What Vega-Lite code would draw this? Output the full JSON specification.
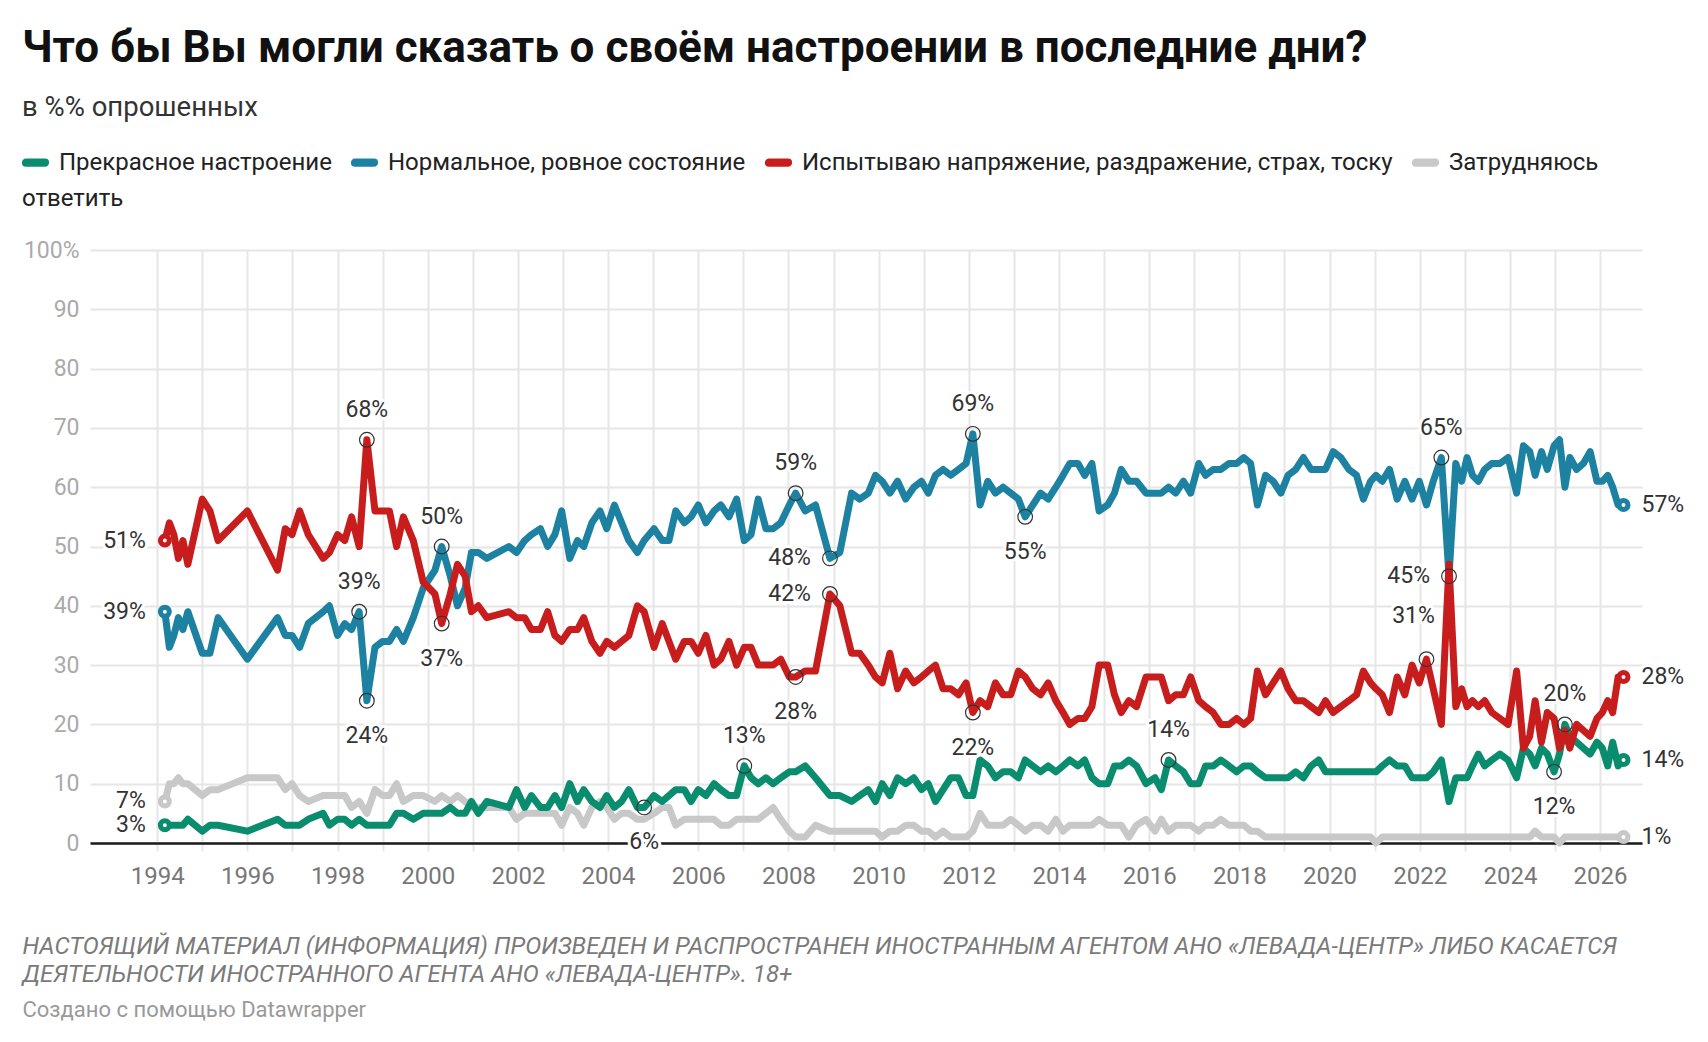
{
"$schema": "https://vega.github.io/schema/vega-lite/v6.json",
"width": 1552,
"height": 593,
"padding": {"left": 22, "top": 27, "right": 16, "bottom": 12},
"autosize": {"type": "pad"},
"background": "white",
"config": {"view": {"stroke": null}, "font": "Roboto"},
"title": {
  "text": "Что бы Вы могли сказать о своём настроении в последние дни?",
  "subtitle": "в %% опрошенных",
  "anchor": "start", "frame": "bounds",
  "font": "Roboto", "fontSize": 44, "fontWeight": "bold", "color": "#111111",
  "subtitleFont": "Roboto", "subtitleFontSize": 27.5, "subtitleColor": "#333333",
  "subtitlePadding": 22.5, "offset": 28
},
"datasets": {
"gray": [{"year":1994.17,"value":7},{"year":1994.27,"value":10},{"year":1994.37,"value":10},{"year":1994.47,"value":11},{"year":1994.57,"value":10},{"year":1994.68,"value":10},{"year":1995.0,"value":8},{"year":1995.17,"value":9},{"year":1995.35,"value":9},{"year":1996.0,"value":11},{"year":1996.67,"value":11},{"year":1996.84,"value":9},{"year":1996.99,"value":10},{"year":1997.16,"value":8},{"year":1997.35,"value":7},{"year":1997.68,"value":8},{"year":1997.82,"value":8},{"year":1998.0,"value":8},{"year":1998.16,"value":8},{"year":1998.31,"value":6},{"year":1998.48,"value":7},{"year":1998.65,"value":5},{"year":1998.83,"value":9},{"year":1999.0,"value":8},{"year":1999.15,"value":8},{"year":1999.31,"value":10},{"year":1999.46,"value":7},{"year":1999.68,"value":8},{"year":1999.9,"value":8},{"year":2000.16,"value":7},{"year":2000.31,"value":8},{"year":2000.5,"value":7},{"year":2000.66,"value":8},{"year":2000.83,"value":7},{"year":2000.97,"value":6},{"year":2001.12,"value":6},{"year":2001.31,"value":6},{"year":2001.8,"value":6},{"year":2001.97,"value":4},{"year":2002.15,"value":5},{"year":2002.3,"value":5},{"year":2002.5,"value":5},{"year":2002.66,"value":5},{"year":2002.82,"value":5},{"year":2002.97,"value":3},{"year":2003.15,"value":6},{"year":2003.32,"value":5},{"year":2003.46,"value":3},{"year":2003.64,"value":6},{"year":2003.82,"value":7},{"year":2003.97,"value":6},{"year":2004.14,"value":4},{"year":2004.3,"value":5},{"year":2004.46,"value":5},{"year":2004.65,"value":4},{"year":2004.8,"value":4},{"year":2005.02,"value":5},{"year":2005.2,"value":6},{"year":2005.35,"value":6},{"year":2005.5,"value":3},{"year":2005.69,"value":4},{"year":2005.84,"value":4},{"year":2006.0,"value":4},{"year":2006.17,"value":4},{"year":2006.35,"value":4},{"year":2006.5,"value":3},{"year":2006.68,"value":3},{"year":2006.85,"value":4},{"year":2007.02,"value":4},{"year":2007.17,"value":4},{"year":2007.33,"value":4},{"year":2007.5,"value":5},{"year":2007.66,"value":6},{"year":2007.83,"value":4},{"year":2008.02,"value":2},{"year":2008.16,"value":1},{"year":2008.37,"value":1},{"year":2008.6,"value":3},{"year":2008.92,"value":2},{"year":2009.14,"value":2},{"year":2009.4,"value":2},{"year":2009.58,"value":2},{"year":2009.77,"value":2},{"year":2009.93,"value":2},{"year":2010.08,"value":1},{"year":2010.25,"value":2},{"year":2010.42,"value":2},{"year":2010.6,"value":3},{"year":2010.78,"value":3},{"year":2010.95,"value":2},{"year":2011.1,"value":2},{"year":2011.26,"value":1},{"year":2011.43,"value":2},{"year":2011.6,"value":1},{"year":2011.77,"value":1},{"year":2011.94,"value":1},{"year":2012.09,"value":2},{"year":2012.25,"value":5},{"year":2012.42,"value":3},{"year":2012.59,"value":3},{"year":2012.76,"value":3},{"year":2012.93,"value":4},{"year":2013.1,"value":3},{"year":2013.25,"value":2},{"year":2013.42,"value":3},{"year":2013.59,"value":3},{"year":2013.76,"value":2},{"year":2013.93,"value":4},{"year":2014.09,"value":2},{"year":2014.24,"value":3},{"year":2014.42,"value":3},{"year":2014.57,"value":3},{"year":2014.73,"value":3},{"year":2014.89,"value":4},{"year":2015.08,"value":3},{"year":2015.23,"value":3},{"year":2015.38,"value":3},{"year":2015.55,"value":1},{"year":2015.72,"value":3},{"year":2015.93,"value":4},{"year":2016.13,"value":2},{"year":2016.27,"value":4},{"year":2016.43,"value":2},{"year":2016.59,"value":3},{"year":2016.76,"value":3},{"year":2016.92,"value":3},{"year":2017.1,"value":2},{"year":2017.25,"value":3},{"year":2017.42,"value":3},{"year":2017.59,"value":4},{"year":2017.77,"value":3},{"year":2017.94,"value":3},{"year":2018.1,"value":3},{"year":2018.25,"value":2},{"year":2018.4,"value":2},{"year":2018.58,"value":1},{"year":2018.75,"value":1},{"year":2018.92,"value":1},{"year":2019.08,"value":1},{"year":2019.25,"value":1},{"year":2019.42,"value":1},{"year":2019.59,"value":1},{"year":2019.76,"value":1},{"year":2019.91,"value":1},{"year":2020.08,"value":1},{"year":2020.25,"value":1},{"year":2020.43,"value":1},{"year":2020.6,"value":1},{"year":2020.75,"value":1},{"year":2020.91,"value":1},{"year":2021.03,"value":0},{"year":2021.17,"value":1},{"year":2021.33,"value":1},{"year":2021.5,"value":1},{"year":2021.67,"value":1},{"year":2021.83,"value":1},{"year":2021.99,"value":1},{"year":2022.15,"value":1},{"year":2022.3,"value":1},{"year":2022.48,"value":1},{"year":2022.65,"value":1},{"year":2022.8,"value":1},{"year":2022.93,"value":1},{"year":2023.05,"value":1},{"year":2023.17,"value":1},{"year":2023.3,"value":1},{"year":2023.44,"value":1},{"year":2023.6,"value":1},{"year":2023.78,"value":1},{"year":2023.96,"value":1},{"year":2024.15,"value":1},{"year":2024.3,"value":1},{"year":2024.44,"value":1},{"year":2024.56,"value":2},{"year":2024.7,"value":1},{"year":2024.83,"value":1},{"year":2024.98,"value":1},{"year":2025.1,"value":0},{"year":2025.22,"value":1},{"year":2025.33,"value":1},{"year":2025.48,"value":1},{"year":2025.63,"value":1},{"year":2025.78,"value":1},{"year":2025.93,"value":1},{"year":2026.05,"value":1},{"year":2026.17,"value":1},{"year":2026.28,"value":1},{"year":2026.4,"value":1},{"year":2026.52,"value":1}],
"green": [{"year":1994.17,"value":3},{"year":1994.27,"value":3},{"year":1994.37,"value":3},{"year":1994.47,"value":3},{"year":1994.57,"value":3},{"year":1994.68,"value":4},{"year":1995.0,"value":2},{"year":1995.17,"value":3},{"year":1995.35,"value":3},{"year":1996.0,"value":2},{"year":1996.67,"value":4},{"year":1996.84,"value":3},{"year":1996.99,"value":3},{"year":1997.16,"value":3},{"year":1997.35,"value":4},{"year":1997.68,"value":5},{"year":1997.82,"value":3},{"year":1998.0,"value":4},{"year":1998.16,"value":4},{"year":1998.31,"value":3},{"year":1998.48,"value":4},{"year":1998.65,"value":3},{"year":1998.83,"value":3},{"year":1999.0,"value":3},{"year":1999.15,"value":3},{"year":1999.31,"value":5},{"year":1999.46,"value":5},{"year":1999.68,"value":4},{"year":1999.9,"value":5},{"year":2000.16,"value":5},{"year":2000.31,"value":5},{"year":2000.5,"value":6},{"year":2000.66,"value":5},{"year":2000.83,"value":5},{"year":2000.97,"value":7},{"year":2001.12,"value":5},{"year":2001.31,"value":7},{"year":2001.8,"value":6},{"year":2001.97,"value":9},{"year":2002.15,"value":6},{"year":2002.3,"value":8},{"year":2002.5,"value":6},{"year":2002.66,"value":6},{"year":2002.82,"value":8},{"year":2002.97,"value":6},{"year":2003.15,"value":10},{"year":2003.32,"value":7},{"year":2003.46,"value":9},{"year":2003.64,"value":7},{"year":2003.82,"value":6},{"year":2003.97,"value":8},{"year":2004.14,"value":6},{"year":2004.3,"value":7},{"year":2004.46,"value":9},{"year":2004.65,"value":6},{"year":2004.8,"value":6},{"year":2005.02,"value":8},{"year":2005.2,"value":7},{"year":2005.35,"value":8},{"year":2005.5,"value":9},{"year":2005.69,"value":9},{"year":2005.84,"value":7},{"year":2006.0,"value":9},{"year":2006.17,"value":8},{"year":2006.35,"value":10},{"year":2006.5,"value":9},{"year":2006.68,"value":8},{"year":2006.85,"value":8},{"year":2007.02,"value":13},{"year":2007.17,"value":11},{"year":2007.33,"value":10},{"year":2007.5,"value":11},{"year":2007.66,"value":10},{"year":2007.83,"value":11},{"year":2008.02,"value":12},{"year":2008.16,"value":12},{"year":2008.37,"value":13},{"year":2008.6,"value":11},{"year":2008.92,"value":8},{"year":2009.14,"value":8},{"year":2009.4,"value":7},{"year":2009.58,"value":8},{"year":2009.77,"value":9},{"year":2009.93,"value":7},{"year":2010.08,"value":10},{"year":2010.25,"value":8},{"year":2010.42,"value":11},{"year":2010.6,"value":10},{"year":2010.78,"value":11},{"year":2010.95,"value":9},{"year":2011.1,"value":10},{"year":2011.26,"value":7},{"year":2011.43,"value":9},{"year":2011.6,"value":11},{"year":2011.77,"value":11},{"year":2011.94,"value":8},{"year":2012.09,"value":8},{"year":2012.25,"value":14},{"year":2012.42,"value":13},{"year":2012.59,"value":11},{"year":2012.76,"value":12},{"year":2012.93,"value":12},{"year":2013.1,"value":11},{"year":2013.25,"value":14},{"year":2013.42,"value":13},{"year":2013.59,"value":12},{"year":2013.76,"value":13},{"year":2013.93,"value":12},{"year":2014.09,"value":13},{"year":2014.24,"value":14},{"year":2014.42,"value":13},{"year":2014.57,"value":14},{"year":2014.73,"value":11},{"year":2014.89,"value":10},{"year":2015.08,"value":10},{"year":2015.23,"value":13},{"year":2015.38,"value":13},{"year":2015.55,"value":14},{"year":2015.72,"value":13},{"year":2015.93,"value":10},{"year":2016.13,"value":11},{"year":2016.27,"value":9},{"year":2016.43,"value":14},{"year":2016.59,"value":13},{"year":2016.76,"value":12},{"year":2016.92,"value":10},{"year":2017.1,"value":10},{"year":2017.25,"value":13},{"year":2017.42,"value":13},{"year":2017.59,"value":14},{"year":2017.77,"value":13},{"year":2017.94,"value":12},{"year":2018.1,"value":13},{"year":2018.25,"value":13},{"year":2018.4,"value":12},{"year":2018.58,"value":11},{"year":2018.75,"value":11},{"year":2018.92,"value":11},{"year":2019.08,"value":11},{"year":2019.25,"value":12},{"year":2019.42,"value":11},{"year":2019.59,"value":13},{"year":2019.76,"value":14},{"year":2019.91,"value":12},{"year":2020.08,"value":12},{"year":2020.25,"value":12},{"year":2020.43,"value":12},{"year":2020.6,"value":12},{"year":2020.75,"value":12},{"year":2020.91,"value":12},{"year":2021.03,"value":12},{"year":2021.17,"value":13},{"year":2021.33,"value":14},{"year":2021.5,"value":13},{"year":2021.67,"value":13},{"year":2021.83,"value":11},{"year":2021.99,"value":11},{"year":2022.15,"value":11},{"year":2022.3,"value":12},{"year":2022.48,"value":14},{"year":2022.65,"value":7},{"year":2022.8,"value":11},{"year":2022.93,"value":11},{"year":2023.05,"value":11},{"year":2023.17,"value":13},{"year":2023.3,"value":15},{"year":2023.44,"value":13},{"year":2023.6,"value":14},{"year":2023.78,"value":15},{"year":2023.96,"value":14},{"year":2024.15,"value":11},{"year":2024.3,"value":16},{"year":2024.44,"value":15},{"year":2024.56,"value":13},{"year":2024.7,"value":16},{"year":2024.83,"value":15},{"year":2024.98,"value":12},{"year":2025.1,"value":15},{"year":2025.22,"value":20},{"year":2025.33,"value":18},{"year":2025.48,"value":17},{"year":2025.63,"value":16},{"year":2025.78,"value":15},{"year":2025.93,"value":17},{"year":2026.05,"value":16},{"year":2026.17,"value":13},{"year":2026.28,"value":17},{"year":2026.4,"value":13},{"year":2026.52,"value":14}],
"blue": [{"year":1994.17,"value":39},{"year":1994.27,"value":33},{"year":1994.37,"value":35},{"year":1994.47,"value":38},{"year":1994.57,"value":36},{"year":1994.68,"value":39},{"year":1995.0,"value":32},{"year":1995.17,"value":32},{"year":1995.35,"value":38},{"year":1996.0,"value":31},{"year":1996.67,"value":38},{"year":1996.84,"value":35},{"year":1996.99,"value":35},{"year":1997.16,"value":33},{"year":1997.35,"value":37},{"year":1997.68,"value":39},{"year":1997.82,"value":40},{"year":1998.0,"value":35},{"year":1998.16,"value":37},{"year":1998.31,"value":36},{"year":1998.48,"value":39},{"year":1998.65,"value":24},{"year":1998.83,"value":33},{"year":1999.0,"value":34},{"year":1999.15,"value":34},{"year":1999.31,"value":36},{"year":1999.46,"value":34},{"year":1999.68,"value":38},{"year":1999.9,"value":43},{"year":2000.16,"value":46},{"year":2000.31,"value":50},{"year":2000.5,"value":45},{"year":2000.66,"value":40},{"year":2000.83,"value":43},{"year":2000.97,"value":49},{"year":2001.12,"value":49},{"year":2001.31,"value":48},{"year":2001.8,"value":50},{"year":2001.97,"value":49},{"year":2002.15,"value":51},{"year":2002.3,"value":52},{"year":2002.5,"value":53},{"year":2002.66,"value":50},{"year":2002.82,"value":52},{"year":2002.97,"value":56},{"year":2003.15,"value":48},{"year":2003.32,"value":51},{"year":2003.46,"value":50},{"year":2003.64,"value":54},{"year":2003.82,"value":56},{"year":2003.97,"value":53},{"year":2004.14,"value":57},{"year":2004.3,"value":54},{"year":2004.46,"value":51},{"year":2004.65,"value":49},{"year":2004.8,"value":51},{"year":2005.02,"value":53},{"year":2005.2,"value":51},{"year":2005.35,"value":51},{"year":2005.5,"value":56},{"year":2005.69,"value":54},{"year":2005.84,"value":55},{"year":2006.0,"value":57},{"year":2006.17,"value":54},{"year":2006.35,"value":56},{"year":2006.5,"value":57},{"year":2006.68,"value":55},{"year":2006.85,"value":58},{"year":2007.02,"value":51},{"year":2007.17,"value":52},{"year":2007.33,"value":58},{"year":2007.5,"value":53},{"year":2007.66,"value":53},{"year":2007.83,"value":54},{"year":2008.02,"value":57},{"year":2008.16,"value":59},{"year":2008.37,"value":56},{"year":2008.6,"value":57},{"year":2008.92,"value":48},{"year":2009.14,"value":49},{"year":2009.4,"value":59},{"year":2009.58,"value":58},{"year":2009.77,"value":59},{"year":2009.93,"value":62},{"year":2010.08,"value":61},{"year":2010.25,"value":59},{"year":2010.42,"value":61},{"year":2010.6,"value":58},{"year":2010.78,"value":60},{"year":2010.95,"value":61},{"year":2011.1,"value":59},{"year":2011.26,"value":62},{"year":2011.43,"value":63},{"year":2011.6,"value":62},{"year":2011.77,"value":63},{"year":2011.94,"value":64},{"year":2012.09,"value":69},{"year":2012.25,"value":57},{"year":2012.42,"value":61},{"year":2012.59,"value":59},{"year":2012.76,"value":60},{"year":2012.93,"value":59},{"year":2013.1,"value":58},{"year":2013.25,"value":55},{"year":2013.42,"value":57},{"year":2013.59,"value":59},{"year":2013.76,"value":58},{"year":2013.93,"value":60},{"year":2014.09,"value":62},{"year":2014.24,"value":64},{"year":2014.42,"value":64},{"year":2014.57,"value":62},{"year":2014.73,"value":64},{"year":2014.89,"value":56},{"year":2015.08,"value":57},{"year":2015.23,"value":59},{"year":2015.38,"value":63},{"year":2015.55,"value":61},{"year":2015.72,"value":61},{"year":2015.93,"value":59},{"year":2016.13,"value":59},{"year":2016.27,"value":59},{"year":2016.43,"value":60},{"year":2016.59,"value":59},{"year":2016.76,"value":61},{"year":2016.92,"value":59},{"year":2017.1,"value":64},{"year":2017.25,"value":62},{"year":2017.42,"value":63},{"year":2017.59,"value":63},{"year":2017.77,"value":64},{"year":2017.94,"value":64},{"year":2018.1,"value":65},{"year":2018.25,"value":64},{"year":2018.4,"value":57},{"year":2018.58,"value":62},{"year":2018.75,"value":61},{"year":2018.92,"value":59},{"year":2019.08,"value":62},{"year":2019.25,"value":63},{"year":2019.42,"value":65},{"year":2019.59,"value":63},{"year":2019.76,"value":63},{"year":2019.91,"value":63},{"year":2020.08,"value":66},{"year":2020.25,"value":65},{"year":2020.43,"value":63},{"year":2020.6,"value":62},{"year":2020.75,"value":58},{"year":2020.91,"value":61},{"year":2021.03,"value":62},{"year":2021.17,"value":61},{"year":2021.33,"value":63},{"year":2021.5,"value":58},{"year":2021.67,"value":61},{"year":2021.83,"value":58},{"year":2021.99,"value":61},{"year":2022.15,"value":57},{"year":2022.3,"value":61},{"year":2022.48,"value":65},{"year":2022.65,"value":45},{"year":2022.8,"value":64},{"year":2022.93,"value":61},{"year":2023.05,"value":65},{"year":2023.17,"value":62},{"year":2023.3,"value":61},{"year":2023.44,"value":63},{"year":2023.6,"value":64},{"year":2023.78,"value":64},{"year":2023.96,"value":65},{"year":2024.15,"value":59},{"year":2024.3,"value":67},{"year":2024.44,"value":66},{"year":2024.56,"value":62},{"year":2024.7,"value":66},{"year":2024.83,"value":63},{"year":2024.98,"value":67},{"year":2025.1,"value":68},{"year":2025.22,"value":60},{"year":2025.33,"value":65},{"year":2025.48,"value":63},{"year":2025.63,"value":64},{"year":2025.78,"value":66},{"year":2025.93,"value":61},{"year":2026.05,"value":61},{"year":2026.17,"value":62},{"year":2026.28,"value":60},{"year":2026.4,"value":57},{"year":2026.52,"value":57}],
"red": [{"year":1994.17,"value":51},{"year":1994.27,"value":54},{"year":1994.37,"value":52},{"year":1994.47,"value":48},{"year":1994.57,"value":51},{"year":1994.68,"value":47},{"year":1995.0,"value":58},{"year":1995.17,"value":56},{"year":1995.35,"value":51},{"year":1996.0,"value":56},{"year":1996.67,"value":46},{"year":1996.84,"value":53},{"year":1996.99,"value":52},{"year":1997.16,"value":56},{"year":1997.35,"value":52},{"year":1997.68,"value":48},{"year":1997.82,"value":49},{"year":1998.0,"value":52},{"year":1998.16,"value":51},{"year":1998.31,"value":55},{"year":1998.48,"value":50},{"year":1998.65,"value":68},{"year":1998.83,"value":56},{"year":1999.0,"value":56},{"year":1999.15,"value":56},{"year":1999.31,"value":50},{"year":1999.46,"value":55},{"year":1999.68,"value":51},{"year":1999.9,"value":44},{"year":2000.16,"value":42},{"year":2000.31,"value":37},{"year":2000.5,"value":42},{"year":2000.66,"value":47},{"year":2000.83,"value":45},{"year":2000.97,"value":39},{"year":2001.12,"value":40},{"year":2001.31,"value":38},{"year":2001.8,"value":39},{"year":2001.97,"value":38},{"year":2002.15,"value":38},{"year":2002.3,"value":36},{"year":2002.5,"value":36},{"year":2002.66,"value":39},{"year":2002.82,"value":35},{"year":2002.97,"value":34},{"year":2003.15,"value":36},{"year":2003.32,"value":36},{"year":2003.46,"value":38},{"year":2003.64,"value":34},{"year":2003.82,"value":32},{"year":2003.97,"value":34},{"year":2004.14,"value":33},{"year":2004.3,"value":34},{"year":2004.46,"value":35},{"year":2004.65,"value":40},{"year":2004.8,"value":39},{"year":2005.02,"value":33},{"year":2005.2,"value":37},{"year":2005.35,"value":34},{"year":2005.5,"value":31},{"year":2005.69,"value":34},{"year":2005.84,"value":34},{"year":2006.0,"value":32},{"year":2006.17,"value":35},{"year":2006.35,"value":30},{"year":2006.5,"value":31},{"year":2006.68,"value":34},{"year":2006.85,"value":30},{"year":2007.02,"value":33},{"year":2007.17,"value":33},{"year":2007.33,"value":30},{"year":2007.5,"value":30},{"year":2007.66,"value":30},{"year":2007.83,"value":31},{"year":2008.02,"value":28},{"year":2008.16,"value":28},{"year":2008.37,"value":29},{"year":2008.6,"value":29},{"year":2008.92,"value":42},{"year":2009.14,"value":40},{"year":2009.4,"value":32},{"year":2009.58,"value":32},{"year":2009.77,"value":30},{"year":2009.93,"value":28},{"year":2010.08,"value":27},{"year":2010.25,"value":32},{"year":2010.42,"value":26},{"year":2010.6,"value":29},{"year":2010.78,"value":27},{"year":2010.95,"value":28},{"year":2011.1,"value":29},{"year":2011.26,"value":30},{"year":2011.43,"value":26},{"year":2011.6,"value":26},{"year":2011.77,"value":25},{"year":2011.94,"value":27},{"year":2012.09,"value":22},{"year":2012.25,"value":24},{"year":2012.42,"value":23},{"year":2012.59,"value":27},{"year":2012.76,"value":25},{"year":2012.93,"value":25},{"year":2013.1,"value":29},{"year":2013.25,"value":28},{"year":2013.42,"value":26},{"year":2013.59,"value":25},{"year":2013.76,"value":27},{"year":2013.93,"value":24},{"year":2014.09,"value":22},{"year":2014.24,"value":20},{"year":2014.42,"value":21},{"year":2014.57,"value":21},{"year":2014.73,"value":23},{"year":2014.89,"value":30},{"year":2015.08,"value":30},{"year":2015.23,"value":25},{"year":2015.38,"value":22},{"year":2015.55,"value":24},{"year":2015.72,"value":23},{"year":2015.93,"value":28},{"year":2016.13,"value":28},{"year":2016.27,"value":28},{"year":2016.43,"value":24},{"year":2016.59,"value":25},{"year":2016.76,"value":25},{"year":2016.92,"value":28},{"year":2017.1,"value":24},{"year":2017.25,"value":23},{"year":2017.42,"value":22},{"year":2017.59,"value":20},{"year":2017.77,"value":20},{"year":2017.94,"value":21},{"year":2018.1,"value":20},{"year":2018.25,"value":21},{"year":2018.4,"value":29},{"year":2018.58,"value":25},{"year":2018.75,"value":27},{"year":2018.92,"value":29},{"year":2019.08,"value":26},{"year":2019.25,"value":24},{"year":2019.42,"value":24},{"year":2019.59,"value":23},{"year":2019.76,"value":22},{"year":2019.91,"value":24},{"year":2020.08,"value":22},{"year":2020.25,"value":23},{"year":2020.43,"value":24},{"year":2020.6,"value":25},{"year":2020.75,"value":29},{"year":2020.91,"value":27},{"year":2021.03,"value":26},{"year":2021.17,"value":25},{"year":2021.33,"value":22},{"year":2021.5,"value":28},{"year":2021.67,"value":25},{"year":2021.83,"value":30},{"year":2021.99,"value":27},{"year":2022.15,"value":31},{"year":2022.3,"value":26},{"year":2022.48,"value":20},{"year":2022.65,"value":47},{"year":2022.8,"value":23},{"year":2022.93,"value":26},{"year":2023.05,"value":23},{"year":2023.17,"value":24},{"year":2023.3,"value":23},{"year":2023.44,"value":24},{"year":2023.6,"value":22},{"year":2023.78,"value":21},{"year":2023.96,"value":20},{"year":2024.15,"value":29},{"year":2024.3,"value":16},{"year":2024.44,"value":18},{"year":2024.56,"value":24},{"year":2024.7,"value":17},{"year":2024.83,"value":22},{"year":2024.98,"value":21},{"year":2025.1,"value":16},{"year":2025.22,"value":19},{"year":2025.33,"value":16},{"year":2025.48,"value":20},{"year":2025.63,"value":19},{"year":2025.78,"value":18},{"year":2025.93,"value":21},{"year":2026.05,"value":22},{"year":2026.17,"value":24},{"year":2026.28,"value":22},{"year":2026.4,"value":28},{"year":2026.52,"value":28}],
"annAbove": [{"year":1998.65,"value":68},{"year":1998.48,"value":39},{"year":2000.31,"value":50},{"year":2007.02,"value":13},{"year":2008.16,"value":59},{"year":2012.09,"value":69},{"year":2016.43,"value":14},{"year":2022.48,"value":65},{"year":2025.22,"value":20}],
"annBelow": [{"year":1998.65,"value":24},{"year":2000.31,"value":37},{"year":2004.8,"value":6},{"year":2008.16,"value":28},{"year":2012.09,"value":22},{"year":2013.25,"value":55},{"year":2024.98,"value":12}],
"annLeft": [{"year":2008.92,"value":48},{"year":2008.92,"value":42},{"year":2022.65,"value":45}],
"annAboveLeft": [{"year":2022.15,"value":31}],
"starts": [{"series":"Прекрасное настроение","year":1994.17,"value":3},{"series":"Нормальное, ровное состояние","year":1994.17,"value":39},{"series":"Испытываю напряжение, раздражение, страх, тоску","year":1994.17,"value":51},{"series":"Затрудняюсь ответить","year":1994.17,"value":7}],
"ends": [{"series":"Прекрасное настроение","year":2026.52,"value":14},{"series":"Нормальное, ровное состояние","year":2026.52,"value":57},{"series":"Испытываю напряжение, раздражение, страх, тоску","year":2026.52,"value":28},{"series":"Затрудняюсь ответить","year":2026.52,"value":1}]
},
"encoding": {
  "y": {"field": "value", "type": "quantitative",
    "scale": {"domain": [0, 100], "nice": false, "zero": true},
    "axis": {"values": [0,10,20,30,40,50,60,70,80,90,100], "title": null, "grid": true, "gridColor": "#e6e6e6", "gridWidth": 2,
      "domain": false, "ticks": false, "labelPadding": 11, "labelFont": "Roboto", "labelFontSize": 23, "labelColor": "#aaaaaa",
      "labelExpr": "datum.value == 100 ? '100%' : datum.label", "labelBaseline": "middle"}}
},
"layer": [
  {"data": {"name": "gray"},
   "mark": {"type": "line", "strokeWidth": 7, "strokeJoin": "round", "strokeCap": "round"},
   "encoding": {
     "x": {"field": "year", "type": "quantitative", "scale": {"domain": [1992.51, 2026.93], "nice": false, "zero": false},
       "axis": {"orient": "bottom", "values": [1994,1995,1996,1997,1998,1999,2000,2001,2002,2003,2004,2005,2006,2007,2008,2009,2010,2011,2012,2013,2014,2015,2016,2017,2018,2019,2020,2021,2022,2023,2024,2025,2026],
         "format": "d", "labelExpr": "datum.value % 2 == 0 ? datum.label : ''",
         "grid": true, "gridColor": "#e6e6e6", "gridWidth": 2,
         "ticks": true, "tickSize": 8, "tickColor": "#e6e6e6", "tickWidth": 2,
         "domain": true, "domainColor": "#1a1a1a", "domainWidth": 2.5,
         "labelFont": "Roboto", "labelFontSize": 24, "labelColor": "#777777", "labelPadding": 13, "labelFlush": false, "labelOverlap": false,
         "title": ["НАСТОЯЩИЙ МАТЕРИАЛ (ИНФОРМАЦИЯ) ПРОИЗВЕДЕН И РАСПРОСТРАНЕН ИНОСТРАННЫМ АГЕНТОМ АНО «ЛЕВАДА-ЦЕНТР» ЛИБО КАСАЕТСЯ", "ДЕЯТЕЛЬНОСТИ ИНОСТРАННОГО АГЕНТА АНО «ЛЕВАДА-ЦЕНТР». 18+"],
         "titleFont": "Roboto", "titleFontStyle": "italic", "titleFontWeight": "normal", "titleFontSize": 24, "titleColor": "#7a7a7a",
         "titleLineHeight": 28, "titleAnchor": "start", "titleAlign": "left", "titleX": -68, "titleY": 110, "titleBaseline": "alphabetic"}},
     "color": {"datum": "Затрудняюсь ответить", "type": "nominal",
       "scale": {"domain": ["Прекрасное настроение", "Нормальное, ровное состояние", "Испытываю напряжение, раздражение, страх, тоску", "Затрудняюсь ответить"],
                 "range": ["#0a8d6e", "#1d81a2", "#c71e1d", "#c8c8c8"]},
       "legend": {"orient": "none", "legendX": -68, "legendY": -101, "direction": "horizontal",
         "title": "ответить", "titleOrient": "bottom", "titleAnchor": "start", "titleFont": "Roboto", "titleFontSize": 24, "titleFontWeight": "normal", "titleColor": "#222222", "titlePadding": 8,
         "labelFont": "Roboto", "labelFontSize": 24, "labelColor": "#222222", "labelOffset": 10, "labelLimit": 900, "columnPadding": 6,
         "labelExpr": "datum.label == 'Затрудняюсь ответить' ? 'Затрудняюсь' : datum.label",
         "symbolType": "M-1,-0.01L1,-0.01A0.01,0.01 0 0 1 1,0.01L-1,0.01A0.01,0.01 0 0 1 -1,-0.01Z",
         "symbolSize": 361, "symbolStrokeWidth": 8, "symbolOpacity": 1}}
   }},
  {"data": {"name": "green"},
   "mark": {"type": "line", "strokeWidth": 7, "strokeJoin": "round", "strokeCap": "round"},
   "encoding": {
     "x": {"field": "year", "type": "quantitative", "scale": {"domain": [1992.51, 2026.93], "nice": false, "zero": false}, "axis": null},
     "color": {"datum": "Прекрасное настроение", "type": "nominal"}}},
  {"data": {"name": "blue"},
   "mark": {"type": "line", "strokeWidth": 7, "strokeJoin": "round", "strokeCap": "round"},
   "encoding": {
     "x": {"field": "year", "type": "quantitative", "scale": {"domain": [1992.51, 2026.93], "nice": false, "zero": false}, "axis": null},
     "color": {"datum": "Нормальное, ровное состояние", "type": "nominal"}}},
  {"data": {"name": "red"},
   "mark": {"type": "line", "strokeWidth": 7, "strokeJoin": "round", "strokeCap": "round"},
   "encoding": {
     "x": {"field": "year", "type": "quantitative", "scale": {"domain": [1992.51, 2026.93], "nice": false, "zero": false}, "axis": null},
     "color": {"datum": "Испытываю напряжение, раздражение, страх, тоску", "type": "nominal"}}},
  {"data": {"name": "annAbove"},
   "transform": [{"calculate": "datum.value + '%'", "as": "label"}],
   "encoding": {"x": {"field": "year", "type": "quantitative", "scale": {"domain": [1992.51, 2026.93], "nice": false, "zero": false}, "axis": null}},
   "layer": [
     {"mark": {"type": "point", "shape": "circle", "size": 216, "filled": false, "stroke": "#333333", "strokeWidth": 1.2, "opacity": 1}},
     {"mark": {"type": "text", "dy": -30, "font": "Roboto", "fontSize": 23, "fill": "white", "stroke": "white", "strokeWidth": 6, "strokeJoin": "round"}, "encoding": {"text": {"field": "label"}}},
     {"mark": {"type": "text", "dy": -30, "font": "Roboto", "fontSize": 23, "fill": "#333333"}, "encoding": {"text": {"field": "label"}}}
   ]},
  {"data": {"name": "annBelow"},
   "transform": [{"calculate": "datum.value + '%'", "as": "label"}],
   "encoding": {"x": {"field": "year", "type": "quantitative", "scale": {"domain": [1992.51, 2026.93], "nice": false, "zero": false}, "axis": null}},
   "layer": [
     {"mark": {"type": "point", "shape": "circle", "size": 216, "filled": false, "stroke": "#333333", "strokeWidth": 1.2, "opacity": 1}},
     {"mark": {"type": "text", "dy": 35, "font": "Roboto", "fontSize": 23, "fill": "white", "stroke": "white", "strokeWidth": 6, "strokeJoin": "round"}, "encoding": {"text": {"field": "label"}}},
     {"mark": {"type": "text", "dy": 35, "font": "Roboto", "fontSize": 23, "fill": "#333333"}, "encoding": {"text": {"field": "label"}}}
   ]},
  {"data": {"name": "annLeft"},
   "transform": [{"calculate": "datum.value + '%'", "as": "label"}],
   "encoding": {"x": {"field": "year", "type": "quantitative", "scale": {"domain": [1992.51, 2026.93], "nice": false, "zero": false}, "axis": null}},
   "layer": [
     {"mark": {"type": "point", "shape": "circle", "size": 216, "filled": false, "stroke": "#333333", "strokeWidth": 1.2, "opacity": 1}},
     {"mark": {"type": "text", "dx": -19, "align": "right", "font": "Roboto", "fontSize": 23, "fill": "white", "stroke": "white", "strokeWidth": 6, "strokeJoin": "round"}, "encoding": {"text": {"field": "label"}}},
     {"mark": {"type": "text", "dx": -19, "align": "right", "font": "Roboto", "fontSize": 23, "fill": "#333333"}, "encoding": {"text": {"field": "label"}}}
   ]},
  {"data": {"name": "annAboveLeft"},
   "transform": [{"calculate": "datum.value + '%'", "as": "label"}],
   "encoding": {"x": {"field": "year", "type": "quantitative", "scale": {"domain": [1992.51, 2026.93], "nice": false, "zero": false}, "axis": null}},
   "layer": [
     {"mark": {"type": "point", "shape": "circle", "size": 216, "filled": false, "stroke": "#333333", "strokeWidth": 1.2, "opacity": 1}},
     {"mark": {"type": "text", "dx": -13, "dy": -43, "font": "Roboto", "fontSize": 23, "fill": "white", "stroke": "white", "strokeWidth": 6, "strokeJoin": "round"}, "encoding": {"text": {"field": "label"}}},
     {"mark": {"type": "text", "dx": -13, "dy": -43, "font": "Roboto", "fontSize": 23, "fill": "#333333"}, "encoding": {"text": {"field": "label"}}}
   ]},
  {"data": {"name": "starts"},
   "transform": [{"calculate": "datum.value + '%'", "as": "label"}],
   "encoding": {"x": {"field": "year", "type": "quantitative", "scale": {"domain": [1992.51, 2026.93], "nice": false, "zero": false}, "axis": null}},
   "layer": [
     {"mark": {"type": "point", "shape": "circle", "size": 80, "filled": false, "fill": "white", "strokeWidth": 5, "opacity": 1},
      "encoding": {"color": {"field": "series", "type": "nominal", "legend": null}}},
     {"mark": {"type": "text", "dx": -19, "align": "right", "font": "Roboto", "fontSize": 23, "fill": "white", "stroke": "white", "strokeWidth": 6, "strokeJoin": "round"}, "encoding": {"text": {"field": "label"}}},
     {"mark": {"type": "text", "dx": -19, "align": "right", "font": "Roboto", "fontSize": 23, "fill": "#333333"}, "encoding": {"text": {"field": "label"}}}
   ]},
  {"data": {"name": "ends"},
   "transform": [{"calculate": "datum.value + '%'", "as": "label"}],
   "encoding": {"x": {"field": "year", "type": "quantitative", "scale": {"domain": [1992.51, 2026.93], "nice": false, "zero": false},
       "axis": {"orient": "bottom", "labels": false, "ticks": false, "domain": false, "grid": false,
         "title": "Создано с помощью Datawrapper", "titleFont": "Roboto", "titleFontSize": 22, "titleFontWeight": "normal", "titleColor": "#999999",
         "titleAnchor": "start", "titleAlign": "left", "titleX": -68, "titleY": 173, "titleBaseline": "alphabetic"}}},
   "layer": [
     {"mark": {"type": "point", "shape": "circle", "size": 80, "filled": false, "fill": "white", "strokeWidth": 5, "opacity": 1},
      "encoding": {"color": {"field": "series", "type": "nominal", "legend": null}}},
     {"mark": {"type": "text", "dx": 18, "align": "left", "font": "Roboto", "fontSize": 23, "fill": "white", "stroke": "white", "strokeWidth": 6, "strokeJoin": "round"}, "encoding": {"text": {"field": "label"}}},
     {"mark": {"type": "text", "dx": 18, "align": "left", "font": "Roboto", "fontSize": 23, "fill": "#333333"}, "encoding": {"text": {"field": "label"}}}
   ]}
],
"resolve": {"axis": {"x": "independent"}}
}
